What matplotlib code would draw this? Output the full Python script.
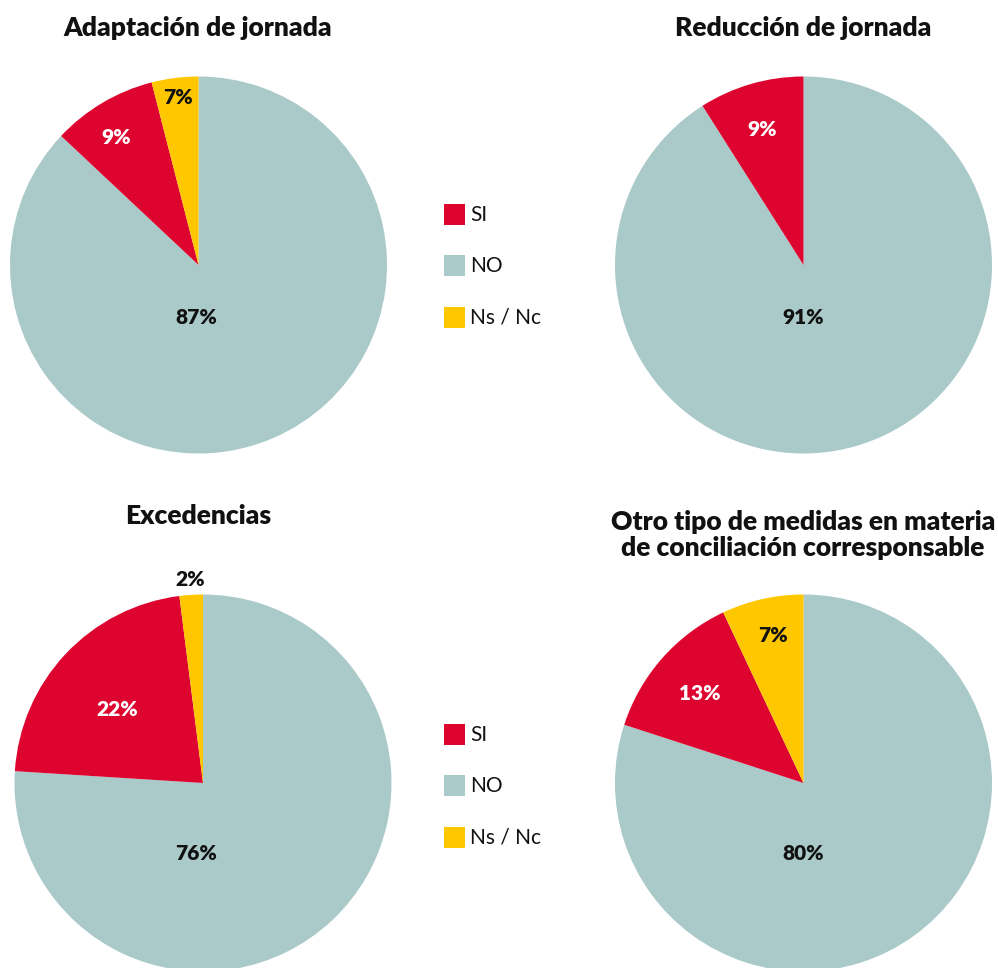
import matplotlib
matplotlib.use("Agg")
import matplotlib.pyplot as plt

plt.rcParams['font.family'] = ['Lato', 'DejaVu Sans']

titles = ["Adaptación de jornada", "Reducción de jornada", "Excedencias",
          "Otro tipo de medidas en materia\nde conciliación corresponsable"]
categories = ["SI", "NO", "Ns / Nc"]
# drawn shares (NO, SI, Ns/Nc)
no_vals = [87, 91, 76, 80]
si_vals = [9, 9, 22, 13]
ns_vals = [4, 0, 2, 7]
# printed labels (NO, SI, Ns/Nc)
no_labels = ["87%", "91%", "76%", "80%"]
si_labels = ["9%", "9%", "22%", "13%"]
ns_labels = ["7%", "", "2%", "7%"]

RED = "#DD052F"
TEAL = "#AAC9C9"
YEL = "#FFC700"

W, H = 998, 968
fig = plt.figure(figsize=(W / 100, H / 100), dpi=100)
ax = fig.add_axes([0, 0, 1, 1])
ax.set_xlim(0, W)
ax.set_ylim(H, 0)
ax.set_aspect('equal')
ax.axis('off')

centers = [(198.5, 265), (803.5, 265), (203, 783), (803.5, 783)]
R = 188.5
title_pos = [(198, 28), (803, 28), (198, 516), (803, 535)]
# label offsets (dx, dy) in pixels from center: NO, SI, Ns
lab_off = [
    [(-2, 53), (-82, -127), (-20, -168)],
    [(0, 53), (-41, -135), None],
    [(-7, 71), (-86, -73), (-13, -204)],
    [(0, 70), (-104, -90), (-30, -147)],
]

for i in range(4):
    cx, cy = centers[i]
    vals = [no_vals[i], si_vals[i], ns_vals[i]]
    # y axis is inverted, so counterclock=True draws clockwise on screen
    ax.pie(vals, colors=[TEAL, RED, YEL], startangle=-90, counterclock=True,
           center=(cx, cy), radius=R, wedgeprops=dict(linewidth=0),
           frame=True)
    labs = [no_labels[i], si_labels[i], ns_labels[i]]
    cols = ["#111111", "white", "#111111"]
    for j in range(3):
        if lab_off[i][j] is None or not labs[j]:
            continue
        dx, dy = lab_off[i][j]
        ax.text(cx + dx, cy + dy, labs[j], ha='center', va='center',
                fontsize=15, fontweight='heavy', color=cols[j])
    tx, ty = title_pos[i]
    ax.text(tx, ty, titles[i], ha='center', va='center', fontsize=19,
            fontweight='heavy', color='#111111', linespacing=1.12)

ax.set_xlim(0, W)
ax.set_ylim(H, 0)
ax.axis('off')

leg_colors = [RED, TEAL, YEL]
for ly in [214, 734]:
    for k in range(3):
        y = ly + k * 51.5
        ax.add_patch(plt.Rectangle((444, y - 10.5), 21, 21, color=leg_colors[k], lw=0))
        ax.text(470, y + 1, categories[k], ha='left', va='center', fontsize=15,
                color='#111111')

fig.savefig("out.png", dpi=100)
